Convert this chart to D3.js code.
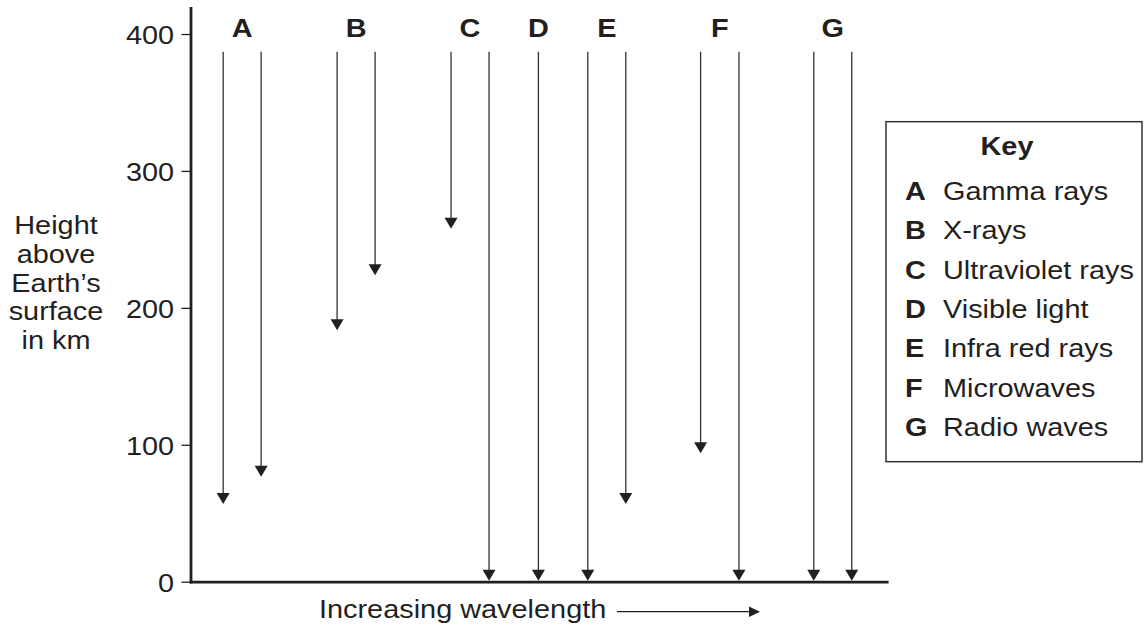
<!DOCTYPE html>
<html>
<head>
<meta charset="utf-8">
<script src="https://cdn.jsdelivr.net/npm/d3@7"></script>
<style>
  html, body { margin: 0; padding: 0; background: #fff; }
  text { font-family: "Liberation Sans", Arial, sans-serif; fill: #231f20; }
</style>
</head>
<body>
<div class="chart"></div>
<script>
// radiation bands and how far down each one gets
const bands = ["A", "B", "C", "D", "E", "F", "G"];
const bandNames = ["Gamma rays", "X-rays", "Ultraviolet rays", "Visible light", "Infra red rays", "Microwaves", "Radio waves"];
const arrowBand = ["A", "A", "B", "B", "C", "C", "D", "E", "E", "F", "F", "G", "G"];
const arrowSlot = [0, 1, 3, 4, 6, 7, 8.3, 9.6, 10.6, 12.57, 13.58, 15.55, 16.55];
const arrowEnd = [56, 76, 183, 223, 257, 0, 0, 0, 56, 93, 0, 0, 0];
const arrowStart = 387;
const yTicks = [0, 100, 200, 300, 400];
const yTitle = ["Height", "above", "Earth\u2019s", "surface", "in km"];

const w = 1144;
const h = 627;
const fs = 26.5;
const sx = 1.09; // the source text is a bit wider than plain Arial
const ink = "#231f20";

const svg = d3.select(".chart").append("svg").attr("width", w).attr("height", h);

const x = d3.scaleLinear().domain([-0.86, 17.47]).range([190.5, 886.7]);
const y = d3.scaleLinear().domain([0, 419]).range([581.7, 8]);

function label(g, px, py, txt, anchor, bold) {
  return g.append("text")
    .attr("transform", "translate(" + px + "," + py + ") scale(" + sx + ",1)")
    .attr("text-anchor", anchor || "start")
    .attr("font-size", fs)
    .attr("font-weight", bold ? "bold" : "normal")
    .text(txt);
}

// axes
const yAxis = d3.axisLeft(y).tickValues(yTicks).tickSize(9).tickPadding(6).tickSizeOuter(0);
const gy = svg.append("g").attr("transform", "translate(190.5,0)").call(yAxis);
gy.select(".domain").attr("stroke", ink).attr("stroke-width", 2.8).attr("stroke-linecap", "square");
gy.selectAll(".tick line").attr("stroke", ink).attr("stroke-width", 1.3);
gy.selectAll(".tick text")
  .attr("font-size", fs)
  .attr("font-family", "'Liberation Sans', Arial, sans-serif")
  .attr("fill", ink)
  .attr("dy", "0.36em")
  .attr("transform", "scale(" + sx + ",1)");

const xAxis = d3.axisBottom(x).tickValues([]).tickSizeOuter(0);
const gx = svg.append("g").attr("transform", "translate(0," + y(0) + ")").call(xAxis);
gx.select(".domain").attr("stroke", ink).attr("stroke-width", 2.8).attr("stroke-linecap", "square");

// arrows
const arrows = svg.append("g");
arrowSlot.forEach((s, i) => {
  const ax = x(s);
  const tip = y(arrowEnd[i]) - 1;
  arrows.append("line")
    .attr("x1", ax).attr("x2", ax)
    .attr("y1", y(arrowStart)).attr("y2", tip - 9)
    .attr("stroke", "#333").attr("stroke-width", 1.3);
  arrows.append("path")
    .attr("d", "M" + (ax - 6.5) + "," + (tip - 11) + "L" + (ax + 6.5) + "," + (tip - 11) + "L" + ax + "," + tip + "Z")
    .attr("fill", ink);
});

// band letters over each group of arrows
bands.forEach((b) => {
  const slots = arrowSlot.filter((s, i) => arrowBand[i] === b);
  label(svg, x(d3.mean(slots)), 37.3, b, "middle", true);
});

// y title
yTitle.forEach((t, i) => label(svg, 56, 234 + i * 28.8, t, "middle"));

// x title with arrow
label(svg, 319, 618, "Increasing wavelength");
svg.append("line").attr("x1", 617).attr("x2", 751).attr("y1", 611.7).attr("y2", 611.7)
  .attr("stroke", ink).attr("stroke-width", 1.3);
svg.append("path").attr("d", "M749,606.5L760,611.7L749,616.9Z").attr("fill", ink);

// key
const key = svg.append("g");
key.append("rect").attr("x", 886).attr("y", 121.7).attr("width", 256).attr("height", 340)
  .attr("fill", "none").attr("stroke", "#333").attr("stroke-width", 1.5);
label(key, 1007, 155, "Key", "middle", true);
bands.forEach((b, i) => {
  const by = 200 + i * 39.3;
  label(key, 905, by, b, "start", true);
  label(key, 943, by, bandNames[i]);
});
</script>
</body>
</html>
